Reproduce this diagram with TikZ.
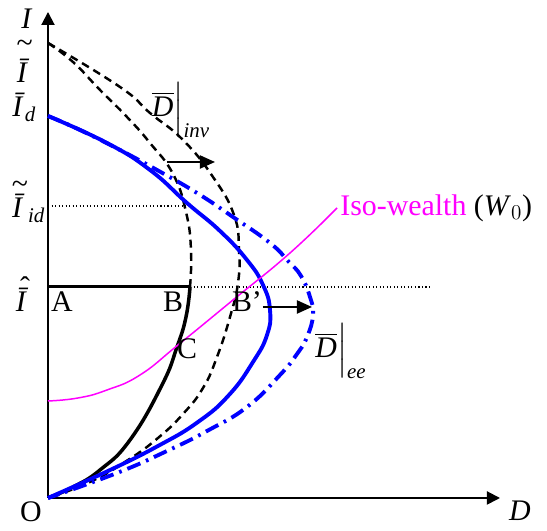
\documentclass[tikz,border=0pt]{standalone}
\usepackage{amsmath}
\usepackage{fontspec}
\setmainfont{Liberation Serif}
\usepackage{xcolor}
\usepackage{tikz}
\usetikzlibrary{arrows.meta,positioning}
\definecolor{isocol}{RGB}{255,0,255}
\newcommand{\Iv}{\textit{I}}
% accent set above the barred I
\newcommand{\accstack}[3]{\leavevmode\vbox{\offinterlineskip\ialign{\hfil##\hfil\cr#1\cr\noalign{\kern#3}#2\cr}}}

\begin{document}
\begin{tikzpicture}[x=0.2mm, y=0.2mm,
  lbl/.style={font=\fontsize{17}{20}\selectfont, inner sep=0pt},
  axis/.style={-{Triangle[length=2.6mm, width=2.6mm]}, line width=1.1pt},
  shiftarrow/.style={-{Triangle[length=3mm, width=2.6mm]}, line width=1.1pt},
  guide/.style={line width=0.6pt, dash pattern=on 0.6pt off 1.4pt},
  oldcurve/.style={line width=1.4pt, dash pattern=on 4.5pt off 3pt},
  eecurve/.style={blue, line width=2.2pt},
  eeshift/.style={blue, line width=2.2pt, dash pattern=on 8pt off 3.5pt on 1.5pt off 3.5pt},
  isow/.style={isocol, line width=0.85pt},
]
\useasboundingbox (-48,-33) rectangle (499,498);

% axes
\coordinate (O) at (0,0);
\coordinate (xend) at (452,0);
\coordinate (yend) at (0,486);
\draw[axis] (O) -- (xend);
\draw[axis] (O) -- (yend);
\node[lbl] (lI) at (-21,479) {\Iv};
\node[lbl] (lD) at (472,-13) {\textit{D}};
\node[lbl] (lO) at (-17,-14) {O};

% levels on the vertical axis
\node[lbl, anchor=base] (Itt) at (-25,415) {\accstack{\kern0.12em\char"7E}{\textit{\=I}}{0.25em}};
\node[lbl, anchor=base west] (Id) at (-36,381) {\textit{\=I}$_{\textit{d}}$};
\node[lbl, anchor=base west] (Iid) at (-40,280) {\accstack{\kern0.12em\char"7E}{\textit{\=I}}{0.03em}$_{\textit{id}}$};
\node[lbl, anchor=base] (Ih) at (-26,186) {\accstack{\kern0.2em\char"02C6}{\textit{\=I}}{-0.3em}};

% horizontal lines
\coordinate (idl) at (0,292);
\coordinate (idr) at (142,292);
\coordinate (A0) at (0,211);
\coordinate (B) at (142,211);
\coordinate (hatend) at (384,211);
\draw[guide] (idl) -- (idr);
\draw[line width=1.7pt] (A0) -- (B);
\draw[guide] (B) -- (hatend);

% D-bar before shift (inv)
\draw[oldcurve] plot[smooth, tension=0.8] coordinates {(0,455) (25,436) (52,408) (79,381) (102,355) (125,324) (138,286) (143,248) (142,211)};
\draw[line width=2pt] plot[smooth, tension=0.8] coordinates {(142,211) (138,181) (129,151) (114,113) (82,58) (52,28) (25,11) (0,0)};
\draw[oldcurve] plot[smooth, tension=0.8] coordinates {(0,455) (72,411) (102,385) (135,358) (165,321) (186,283) (191,248) (190,215) (182,181) (169,141) (155,110) (135,84) (110,60) (80,38) (42,16) (0,0)};

% D-bar for ee
\draw[eecurve] plot[smooth, tension=0.8] coordinates {(0,382) (59,355) (102,328) (139,295) (172,267) (199,238) (215,213) (222,188) (219,163) (205,136) (181,103) (150,76) (110,52) (60,27) (0,0)};
\draw[eeshift] plot[smooth, tension=0.8] coordinates {(0,382) (32,368) (72,348) (109,328) (149,305) (185,281) (222,255) (240,237) (253,222) (262,201) (265,183) (259,161) (249,144) (232,123) (199,91) (159,67) (119,47) (69,25) (0,0)};

% iso-wealth
\draw[isow] plot[smooth, tension=0.8] coordinates {(0,97) (30,100) (59,108) (92,123) (130,153) (185,198) (242,245) (289,290)};
\node[lbl, anchor=west] (iso) at (292,290) {{\color{isocol}Iso-wealth} (\textit{W}$_0$)};

% shifts
\coordinate (s1a) at (119,336);
\coordinate (s1b) at (167,336);
\coordinate (s2a) at (215,191);
\coordinate (s2b) at (264,191);
\draw[shiftarrow] (s1a) -- (s1b);
\draw[shiftarrow] (s2a) -- (s2b);
\node[lbl] (Dinv) at (133,388) {$\overline{\textit{D}}\Big|_{\textit{inv}}$};
\node[lbl] (Dee) at (293,147) {$\overline{\textit{D}}\Big|_{\textit{ee}}$};

% points
\node[lbl] (pA) at (14,196) {A};
\node[lbl] (pB) at (125,196) {B};
\node[lbl] (pB2) at (199,196) {B’};
\node[lbl] (pC) at (139,149) {C};

\end{tikzpicture}
\end{document}
